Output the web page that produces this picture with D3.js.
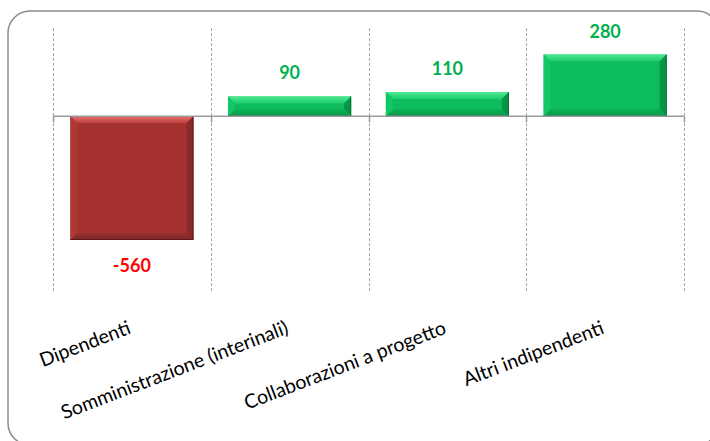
<!DOCTYPE html>
<html>
<head>
<meta charset="utf-8">
<title>Variazione occupati</title>
<script src="https://d3js.org/d3.v7.min.js"></script>
<style>
  body { margin: 0; background: #fff; }
  .cat { font-family: Lato, "Open Sans", sans-serif; font-size: 19.5px; fill: #000; }
  .val { font-family: Lato, "Open Sans", sans-serif; font-size: 18px; font-weight: bold; }
</style>
</head>
<body>
<svg id="chart"></svg>
<script>
// data
var categories = ["Dipendenti", "Somministrazione (interinali)", "Collaborazioni a progetto", "Altri indipendenti"];
var values = [-560, 90, 110, 280];

var W = 710, H = 441;
var svg = d3.select("#chart").attr("width", W).attr("height", H);

// outer frame
svg.append("rect")
    .attr("x", 8).attr("y", 11)
    .attr("width", 711).attr("height", 434)
    .attr("rx", 22).attr("ry", 22)
    .attr("fill", "#fff")
    .attr("stroke", "#8c8c8c")
    .attr("stroke-width", 1.5);

var x = d3.scaleBand()
    .domain(categories)
    .range([53, 684])
    .paddingInner(0.22)
    .paddingOuter(0.11);

var xGrid = d3.scaleBand().domain(categories).range([53, 684]);

var y = d3.scaleLinear().domain([-800, 400]).range([293, 28]);

// vertical dashed gridlines at category boundaries
var bounds = categories.map(function(c) { return xGrid(c); }).concat([xGrid.range()[1]]);
svg.selectAll("line.grid")
    .data(bounds)
    .enter().append("line")
    .attr("class", "grid")
    .attr("x1", function(d) { return Math.round(d) + 0.5; })
    .attr("x2", function(d) { return Math.round(d) + 0.5; })
    .attr("y1", y(400)).attr("y2", y(-800))
    .attr("stroke", "#a6a6a6")
    .attr("stroke-width", 1)
    .attr("stroke-dasharray", "3,2");

// gradients for bevel
var defs = svg.append("defs");
function grad(id, c1, c2, vertical) {
    var g = defs.append("linearGradient").attr("id", id)
        .attr("x1", 0).attr("y1", 0)
        .attr("x2", vertical ? 0 : 1).attr("y2", vertical ? 1 : 0);
    g.append("stop").attr("offset", "0%").attr("stop-color", c1);
    g.append("stop").attr("offset", "100%").attr("stop-color", c2);
}
var pal = {
    pos: { base: "#0dbd5b", top1: "#4fe992", top2: "#1ccb6c", bot1: "#0bb054", bot2: "#08994a", left: "#12c764", right: "#079446", edge: "#06733a" },
    neg: { base: "#a53230", top1: "#e86e6c", top2: "#b9403e", bot1: "#963030", bot2: "#7a2624", left: "#ae3836", right: "#8a2a28", edge: "#5e1b1a" }
};
["pos", "neg"].forEach(function(k) {
    grad(k + "Top", pal[k].top1, pal[k].top2, true);
    grad(k + "Bot", pal[k].bot1, pal[k].bot2, true);
});

var b = 7;
var bars = svg.selectAll("g.bar")
    .data(values)
    .enter().append("g")
    .attr("class", "bar");

bars.each(function(d, i) {
    var g = d3.select(this);
    var k = d >= 0 ? "pos" : "neg";
    var x0 = x(categories[i]), x1 = x0 + x.bandwidth();
    var y0 = y(Math.max(0, d)), y1 = y(Math.min(0, d));
    var bb = Math.min(b, (y1 - y0) / 2);
    g.append("rect").attr("x", x0).attr("y", y0)
        .attr("width", x1 - x0).attr("height", y1 - y0)
        .attr("fill", pal[k].base);
    // top bevel
    g.append("polygon")
        .attr("points", [[x0, y0], [x1, y0], [x1 - bb, y0 + bb], [x0 + bb, y0 + bb]].join(" "))
        .attr("fill", "url(#" + k + "Top)");
    // bottom bevel
    g.append("polygon")
        .attr("points", [[x0, y1], [x1, y1], [x1 - bb, y1 - bb], [x0 + bb, y1 - bb]].join(" "))
        .attr("fill", "url(#" + k + "Bot)");
    // left bevel
    g.append("polygon")
        .attr("points", [[x0, y0], [x0 + bb, y0 + bb], [x0 + bb, y1 - bb], [x0, y1]].join(" "))
        .attr("fill", pal[k].left);
    // right bevel
    g.append("polygon")
        .attr("points", [[x1, y0], [x1 - bb, y0 + bb], [x1 - bb, y1 - bb], [x1, y1]].join(" "))
        .attr("fill", pal[k].right);
    g.append("line").attr("x1", x1 - 0.5).attr("x2", x1 - 0.5).attr("y1", y0).attr("y2", y1)
        .attr("stroke", pal[k].edge).attr("stroke-width", 1);
    g.append("line").attr("x1", x0).attr("x2", x1).attr("y1", y1 - 0.5).attr("y2", y1 - 0.5)
        .attr("stroke", pal[k].edge).attr("stroke-width", 1);
});

// zero axis line with small ticks
svg.append("line")
    .attr("x1", 53).attr("x2", 684)
    .attr("y1", y(0)).attr("y2", y(0))
    .attr("stroke", "#9a9a9a").attr("stroke-width", 1.5);
svg.selectAll("line.tick")
    .data(bounds)
    .enter().append("line")
    .attr("class", "tick")
    .attr("x1", function(d) { return Math.round(d) + 0.5; })
    .attr("x2", function(d) { return Math.round(d) + 0.5; })
    .attr("y1", y(0)).attr("y2", y(0) + 6)
    .attr("stroke", "#9a9a9a").attr("stroke-width", 1.5);

// value labels
svg.selectAll("text.val")
    .data(values)
    .enter().append("text")
    .attr("class", "val")
    .attr("x", function(d, i) { return x(categories[i]) + x.bandwidth() / 2; })
    .attr("y", function(d) { return d >= 0 ? y(d) - 17 : y(d) + 32; })
    .attr("text-anchor", "middle")
    .attr("fill", function(d) { return d >= 0 ? "#00b050" : "#ff0000"; })
    .text(function(d) { return d; });

// category labels, rotated
svg.selectAll("text.cat")
    .data(categories)
    .enter().append("text")
    .attr("class", "cat")
    .attr("text-anchor", "end")
    .attr("transform", function(d) {
        return "translate(" + (xGrid(d) + xGrid.bandwidth() / 2) + ",333) rotate(-21)";
    })
    .text(function(d) { return d; });
</script>
</body>
</html>
